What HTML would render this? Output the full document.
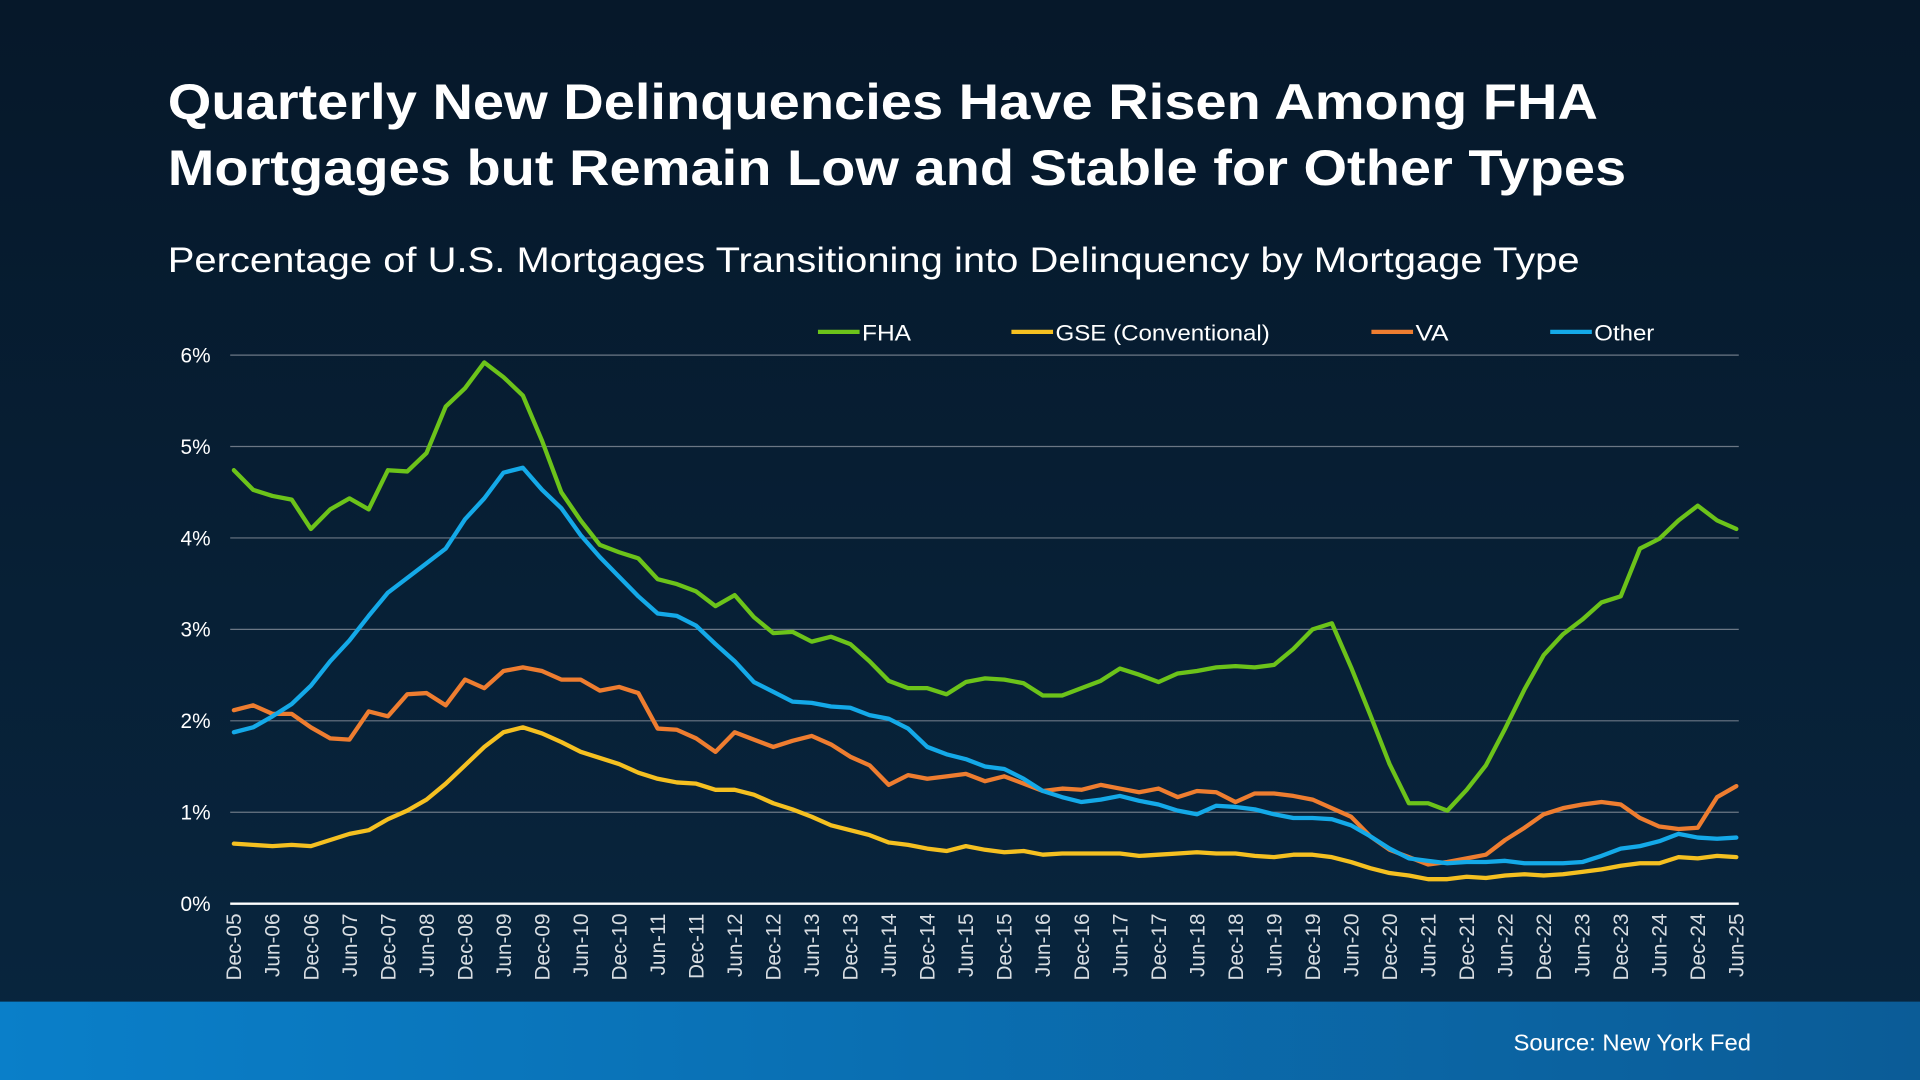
<!DOCTYPE html>
<html><head><meta charset="utf-8"><style>
html,body{margin:0;padding:0;width:1920px;height:1080px;overflow:hidden;background:#061c2e}
svg{display:block}
</style></head><body>
<svg id="s" width="1920" height="1080" viewBox="0 0 1568 882" font-family="Liberation Sans, Arial, sans-serif">
<defs>
<linearGradient id="bg" x1="0" y1="0" x2="0" y2="1"><stop offset="0" stop-color="#06182a"/><stop offset="1" stop-color="#08263f"/></linearGradient>
<linearGradient id="bar" x1="0" y1="0" x2="1" y2="0"><stop offset="0" stop-color="#0a7fc9"/><stop offset="1" stop-color="#0b5c97"/></linearGradient>
</defs>
<rect width="1568" height="882" fill="url(#bg)"/>
<rect y="818" width="1568" height="64" fill="url(#bar)"/>
<text x="137" y="97" fill="#fff" font-size="41" font-weight="bold" textLength="1168" lengthAdjust="spacingAndGlyphs">Quarterly New Delinquencies Have Risen Among FHA</text>
<text x="137" y="151" fill="#fff" font-size="41" font-weight="bold" textLength="1191" lengthAdjust="spacingAndGlyphs">Mortgages but Remain Low and Stable for Other Types</text>
<text x="137" y="222" fill="#fff" font-size="29" textLength="1153" lengthAdjust="spacingAndGlyphs">Percentage of U.S. Mortgages Transitioning into Delinquency by Mortgage Type</text>
<text x="1236" y="858" fill="#fff" font-size="19" textLength="194" lengthAdjust="spacingAndGlyphs">Source: New York Fed</text>
<g id="grid"></g>
<g font-size="18" fill="#fff">
<line x1="668" y1="271" x2="702" y2="271" stroke="#6cc31a" stroke-width="3.5"/><text x="704" y="278" textLength="40" lengthAdjust="spacingAndGlyphs">FHA</text>
<line x1="826" y1="271" x2="860" y2="271" stroke="#f5c021" stroke-width="3.5"/><text x="862" y="278" textLength="175" lengthAdjust="spacingAndGlyphs">GSE (Conventional)</text>
<line x1="1120" y1="271" x2="1154" y2="271" stroke="#ee7d30" stroke-width="3.5"/><text x="1156" y="278" textLength="27" lengthAdjust="spacingAndGlyphs">VA</text>
<line x1="1266" y1="271" x2="1300" y2="271" stroke="#14a9e8" stroke-width="3.5"/><text x="1302" y="278" textLength="49" lengthAdjust="spacingAndGlyphs">Other</text>
</g>
<g id="series"></g>
</svg>
<script>
const NS="http://www.w3.org/2000/svg";
const g=document.getElementById('grid'), se=document.getElementById('series');
function el(p,t,a,txt){const e=document.createElementNS(NS,t);for(const k in a)e.setAttribute(k,a[k]);if(txt)e.textContent=txt;p.appendChild(e);return e;}
const y0=738,ystep=74.67,x0=191,x1=1418;
for(let i=0;i<=6;i++){const y=y0-i*ystep;
 el(g,'line',{x1:188,x2:1420,y1:y,y2:y,stroke:i?'#6b7785':'#ffffff','stroke-width':i?1:2});
 el(g,'text',{x:172,y:y+6,fill:'#fff','font-size':17,'text-anchor':'end'},i+'%');}
const n=79,dx=(x1-x0)/(n-1);
for(let i=0;i<n;i+=2){
 const isDec=i%4==0; const y=isDec?5+i/4:6+Math.floor(i/4);
 const lab=(isDec?'Dec-':'Jun-')+String(y).padStart(2,'0');
 const x=x0+i*dx;
 el(g,'text',{x:0,y:0,fill:'#d8dde2','font-size':17,'text-anchor':'end',transform:`translate(${x+6},${746}) rotate(-90)`},lab);}
const data={
'#6cc31a':[384,400,405,408,432,416,407,416,384,385,370,332,317,296,308,323,360,402,425,445,451,456,473,477,483,495,486,504,517,516,524,520,526,540,556,562,562,567,557,554,555,558,568,568,562,556,546,551,557,550,548,545,544,545,543,530,514,509,545,584,624,656,656,662,645,625,595,563,535,518,506,492,487,448,440,425,413,425,432],
'#f5c021':[689,690,691,690,691,686,681,678,669,662,653,640,625,610,598,594,599,606,614,619,624,631,636,639,640,645,645,649,656,661,667,674,678,682,688,690,693,695,691,694,696,695,698,697,697,697,697,699,698,697,696,697,697,699,700,698,698,700,704,709,713,715,718,718,716,717,715,714,715,714,712,710,707,705,705,700,701,699,700],
'#ee7d30':[580,576,583,583,594,603,604,581,585,567,566,576,555,562,548,545,548,555,555,564,561,566,595,596,603,614,598,604,610,605,601,608,618,625,641,633,636,634,632,638,634,640,646,644,645,641,644,647,644,651,646,647,655,648,648,650,653,660,667,683,694,700,706,704,701,698,686,676,665,660,657,655,657,668,675,677,676,651,642],
'#14a9e8':[598,594,585,575,560,540,523,503,484,472,460,448,424,407,386,382,400,415,437,455,471,487,501,503,511,526,540,557,565,573,574,577,578,584,587,595,610,616,620,626,628,636,646,651,655,653,650,654,657,662,665,658,659,661,665,668,668,669,674,683,693,701,703,705,704,704,703,705,705,705,704,699,693,691,687,681,684,685,684]};
for(const c of ['#f5c021','#ee7d30','#14a9e8','#6cc31a']){const d=data[c];const m=d.length;const st=(x1-x0)/(m-1);
 el(se,'polyline',{points:d.map((v,i)=>(x0+i*st).toFixed(1)+','+v).join(' '),fill:'none',stroke:c,'stroke-width':3.5,'stroke-linejoin':'round','stroke-linecap':'round'});}
</script>
</body></html>
